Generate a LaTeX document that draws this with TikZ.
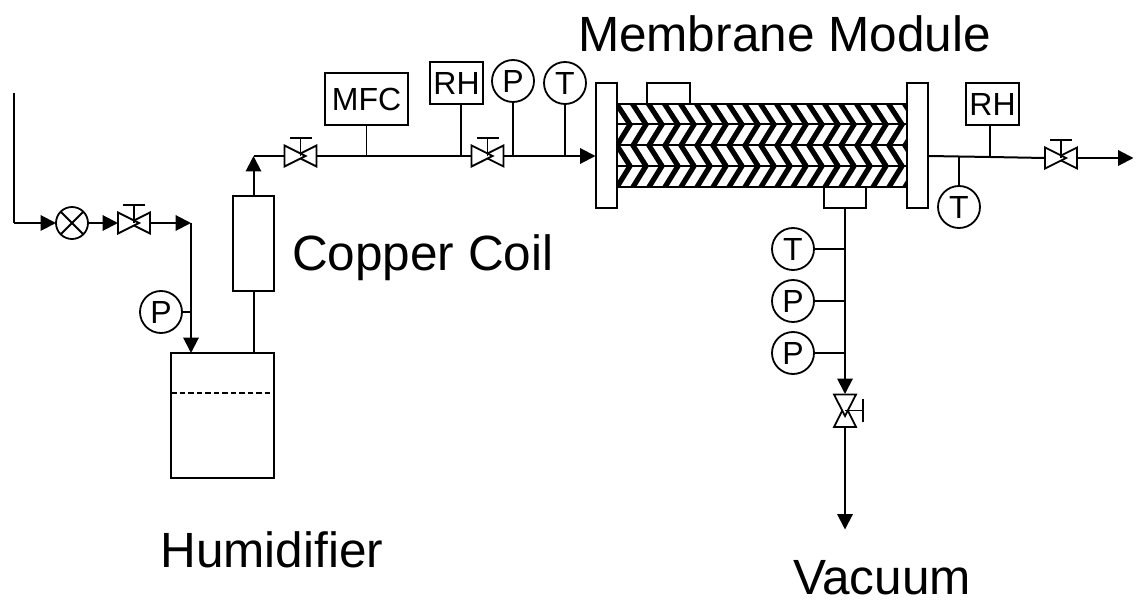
\documentclass[tikz,border=0pt]{standalone}
\usepackage{fontspec}
\setmainfont{Liberation Sans}
\usetikzlibrary{arrows.meta}
\tikzset{
  pipe/.style={draw=black,line width=2pt},
  flow/.style={pipe,-{Triangle[length=15.5pt,width=15.5pt]}},
  thin pipe/.style={draw=black,line width=1.8pt},
  boxnode/.style={draw=black,fill=white,rectangle,inner sep=0pt,outer sep=0pt,line width=2pt},
  instr/.style={boxnode,font=\fontsize{32}{32}\selectfont},
  gauge/.style={draw=black,fill=white,circle,inner sep=0pt,outer sep=0pt,minimum size=42pt,line width=1.8pt,font=\fontsize{32}{32}\selectfont},
  caption/.style={anchor=base west,inner sep=0pt,outer sep=0pt,font=\fontsize{49.5}{49.5}\selectfont},
  valvebody/.style={draw=black,fill=white,line width=1.8pt,line join=miter},
  valveanchor/.style={rectangle,inner sep=0pt,outer sep=0pt},
}
\newcommand{\hvalve}[3]{%
  \node[valveanchor,minimum width=32pt,minimum height=21pt] (#1) at (#2,#3) {};
  \draw[valvebody] (#2+16,#3-10.5) -- (#2-5,#3) -- (#2+16,#3+10.5) -- cycle;
  \draw[valvebody] (#2-16,#3-10.5) -- (#2+5,#3) -- (#2-16,#3+10.5) -- cycle;
  \draw[thin pipe] (#2,#3) -- (#2,#3-18);
  \draw[thin pipe] (#2-11,#3-18) -- (#2+11,#3-18);
}
\begin{document}
\begin{tikzpicture}[x=1pt,y=-1pt]
\useasboundingbox (0,0) rectangle (1139,601);
\fill[white] (0,0) rectangle (1139,601);

% membrane core
\begin{scope}
  \clip (616,104) rectangle (907,187);
  \foreach \k in {-1,...,20}{
    \draw[black,line width=5.2pt,line join=miter,miter limit=10]
      (614+16*\k,100) -- (630+16*\k,124.5) -- (617+16*\k,145.5) -- (630+16*\k,166) -- (617+16*\k,187) -- (615+16*\k,190);
  }
\end{scope}
\node[boxnode,fill=none,minimum width=291pt,minimum height=83pt,line width=2.4pt] (core) at (761.5,145.5) {};
\draw[pipe] (core.west |- 0,124.5) -- (core.east |- 0,124.5);
\draw[pipe] (core.west |- 0,145.5) -- (core.east |- 0,145.5);
\draw[pipe] (core.west |- 0,166) -- (core.east |- 0,166);
\node[boxnode,minimum width=21pt,minimum height=125pt] (flangeL) at (606,145.5) {};
\node[boxnode,minimum width=21pt,minimum height=125pt] (flangeR) at (917.5,145.5) {};
\node[boxnode,minimum width=43pt,minimum height=21pt] (portT) at (668.5,93.5) {};
\node[boxnode,minimum width=42pt,minimum height=21pt] (portB) at (845,197.5) {};

% feed side
\coordinate (src) at (14,93);
\coordinate (corner) at (14,223);
\node[gauge,minimum size=32pt] (mix) at (72,223) {};
\draw[thin pipe] (mix.45) -- (mix.225);
\draw[thin pipe] (mix.135) -- (mix.315);
\hvalve{v1}{134}{223}
\coordinate (drop) at (191,223);
\node[boxnode,minimum width=103pt,minimum height=125pt] (hum) at (222.5,415.5) {};
\coordinate (level) at (191,353);
\draw[pipe] (src) -- (corner);
\draw[flow] (corner) -- (mix.west);
\draw[flow] (mix.east) -- (v1.west);
\draw[flow] (v1.east) -- (drop);
\draw[flow] (drop) -- (level);
\draw[line width=1.6pt,dash pattern=on 5.5pt off 3pt] (hum.west |- 0,393) -- (hum.east |- 0,393);
\node[gauge] (pfeed) at (161,312) {P};
\coordinate (pfeedJ) at (191,312);
\draw[thin pipe] (pfeed.east) -- (pfeedJ);

% coil
\node[boxnode,minimum width=41pt,minimum height=95pt] (coil) at (253.5,244) {};
\coordinate (humTop) at (254,353);
\coordinate (bend) at (253.5,156);
\draw[pipe] (humTop) -- (coil.south -| humTop);
\draw[flow] (coil.north) -- (bend);
\hvalve{v2}{300.5}{156}
\draw[pipe] (bend) -- (v2.west);
\hvalve{v3}{487.5}{156}
\draw[pipe] (v2.east) -- (v3.west);
\draw[flow] (v3.east) -- (flangeL.west |- v3.east);

\node[instr,minimum width=83pt,minimum height=52pt] (mfc) at (366.5,99) {MFC};
\node[instr,minimum width=53pt,minimum height=42pt] (rh1) at (456.5,83) {RH};
\node[gauge] (p1) at (513,81) {P};
\node[gauge] (t1) at (565,83) {T};
\draw[thin pipe] (mfc.south) -- (mfc.south |- v2);
\draw[thin pipe] (rh1.south) ++(4.5,0) -- ++(0,52);
\draw[thin pipe] (p1.south) -- (p1.south |- v3);
\draw[thin pipe] (t1.south) -- (t1.south |- v3);

% retentate side
\hvalve{v4}{1061}{158}
\coordinate (out) at (1133.5,158);
\coordinate (retJ) at (990,157);
\draw[pipe] (flangeR.east |- 0,156) -- (retJ) -- (v4.west);
\draw[flow] (v4.east) -- (out);
\node[instr,minimum width=53pt,minimum height=42pt] (rh2) at (992.5,104) {RH};
\node[gauge] (t2) at (959,207) {T};
\draw[thin pipe] (rh2.south) ++(-2.5,0) -- (retJ);
\draw[thin pipe] (t2.north) -- (t2.north |- 0,156);

% permeate side
\node[gauge] (t3) at (793,249) {T};
\node[gauge] (p2) at (793,301) {P};
\node[gauge] (p3) at (793,353) {P};
\node[valveanchor,minimum width=22pt,minimum height=33pt] (v5) at (845,410.5) {};
\coordinate (vac) at (845,529.5);
\draw[flow] (portB.south) -- (v5.north);
\draw[thin pipe] (t3.east) -- (t3.east -| portB.south);
\draw[thin pipe] (p2.east) -- (p2.east -| portB.south);
\draw[thin pipe] (p3.east) -- (p3.east -| portB.south);
\draw[valvebody] (834,427) -- (845,405) -- (856,427) -- cycle;
\draw[valvebody] (834,394.5) -- (845,416) -- (856,394.5) -- cycle;
\draw[thin pipe] (v5.center) -- (863,410.5);
\draw[thin pipe] (863,399) -- (863,422);
\draw[flow] (v5.south) -- (vac);

% captions
\node[caption] (cMem) at (578,52) {Membrane Module};
\node[caption] (cCoil) at (292,271) {Copper Coil};
\node[caption] (cHum) at (160.5,567) {Humidifier};
\node[caption] (cVac) at (793,594.5) {Vacuum};
\end{tikzpicture}
\end{document}
